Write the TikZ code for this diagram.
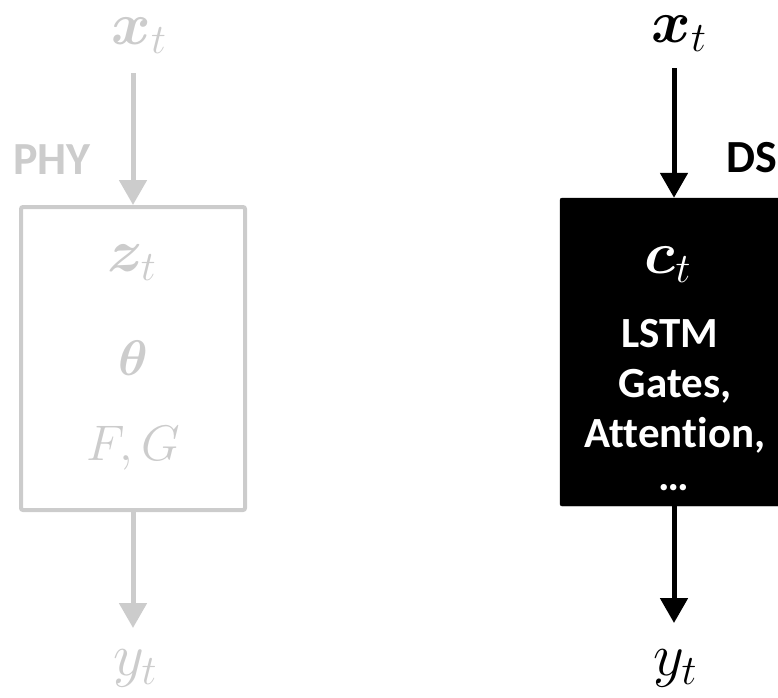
\RequirePackage{fix-cm}
\documentclass[tikz,border=0pt]{standalone}
\usepackage{amsmath}
\usepackage{bm}
\usepackage{fontspec}
\newfontfamily\calib[Ligatures=NoCommon]{Carlito}
\usetikzlibrary{arrows.meta}
\definecolor{phygray}{RGB}{204,204,204}
\begin{document}
\begin{tikzpicture}[x=1pt,y=-1pt,
  flow/.style={line width=5pt,-{Triangle[width=27pt,length=25pt]}},
  lbl/.style={font=\calib\bfseries\fontsize{46}{52}\selectfont, inner sep=0pt},
  bigmath/.style={font=\fontsize{60}{70}\selectfont, inner sep=0pt},
  midmath/.style={font=\fontsize{50}{60}\selectfont, inner sep=0pt},
  boxtxt/.style={font=\calib\bfseries\fontsize{43}{50}\selectfont, text=white, inner sep=0pt, anchor=base}]
\useasboundingbox (0,0) rectangle (778,697);

% ---- physics-based model (greyed out) ----
\node[bigmath, text=phygray] (lx) at (139,36) {$\bm{x}_t$};
\node[lbl, text=phygray] (phy) at (52,160) {PHY};
\node[draw=phygray, line width=4pt, rounded corners=2pt,
      minimum width=224pt, minimum height=303pt] (lbox) at (133,358.5) {};
\node[bigmath, text=phygray] (lz) at (132,263) {$\bm{z}_t$};
\node[midmath, text=phygray] (lth) at (133,358) {$\bm{\theta}$};
\node[midmath, text=phygray] (lfg) at (133,448) {$F,G$};
\node[bigmath, text=phygray] (ly) at (135,668) {$y_t$};
\coordinate (lin) at (133,73);
\coordinate (lout) at (133,628);
\draw[flow, draw=phygray, fill=phygray] (lin) -- (lbox.north);
\draw[flow, draw=phygray, fill=phygray] (lbox.south) -- (lout);

% ---- data-science model (box runs past the right edge) ----
\node[bigmath] (rx) at (679,34) {$\bm{x}_t$};
\node[lbl] (ds) at (752,158) {DS};
\node[fill=black, draw=black, rounded corners=2pt,
      minimum width=228pt, minimum height=308pt] (rbox) at (674,352) {};
\node[bigmath, text=white] (rc) at (668,265) {$\bm{c}_t$};
\node[boxtxt] (l1) at (670,347) {LSTM};
\node[boxtxt] (l2) at (675,397) {Gates,};
\node[boxtxt] (l3) at (675,447) {Attention,};
\node[boxtxt] (l4) at (674,490) {\dots};
\node[bigmath] (ry) at (675,668) {$y_t$};
\coordinate (rin) at (674,68);
\coordinate (rout) at (674,623);
\draw[flow] (rin) -- (rbox.north);
\draw[flow] (rbox.south) -- (rout);
\end{tikzpicture}
\end{document}
